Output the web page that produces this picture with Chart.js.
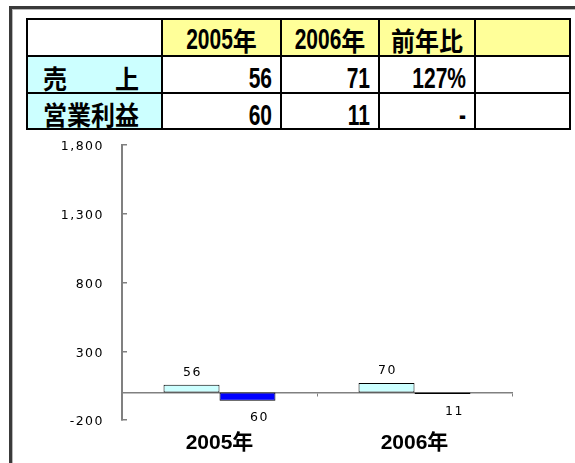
<!DOCTYPE html>
<html>
<head>
<meta charset="utf-8">
<script src="https://cdn.jsdelivr.net/npm/chart.js@4.4.1/dist/chart.umd.min.js"></script>
<style>
  html, body { margin: 0; padding: 0; background: #fff; }
  body { width: 575px; height: 463px; position: relative; overflow: hidden; }
  #chart { position: absolute; left: 0; top: 0; }
  #frame { position: absolute; left: 9px; top: 6px; width: 620px; height: 520px;
           border-top: 3px solid #3a3a3a; border-left: 3px solid #3a3a3a; }
  #frameIn { position: absolute; left: 12px; top: 9px; width: 620px; height: 520px;
             border-top: 1px solid #b8b8b8; border-left: 1px solid #b8b8b8; }
  #tbl { position: absolute; left: 26px; top: 18px; width: 545px; height: 112px;
         box-sizing: border-box; background: #000; padding: 2px;
         display: grid; gap: 2px;
         grid-template-columns: 133px 117px 96px 94px 93px;
         grid-template-rows: 35px 35px 34px; }
  .c { background: #fff; display: flex; align-items: center; overflow: hidden;
       white-space: nowrap; box-sizing: border-box; }
  .hd { background: #ffff99; justify-content: center; padding-top: 3px; }
  .hd.blank0 { background: #fff; }
  .rl { background: #ccffff; justify-content: flex-start; padding-left: 15px; padding-top: 5px; }
  .num { justify-content: flex-end; padding-right: 8px; padding-top: 7px; }
  .d { display: inline-block; vertical-align: middle; line-height: 1;
       font: bold 21px "Liberation Sans", Arial, sans-serif; transform: scaleY(1.42); }
  .k { display: inline-block; vertical-align: middle; line-height: 1;
       font: bold 24px "Noto Sans CJK JP", sans-serif; transform: scaleY(1.08); }
</style>
</head>
<body>
<canvas id="chart" width="575" height="463"></canvas>
<div id="frame"></div>
<div id="frameIn"></div>
<div id="tbl"></div>
<script>
// Summary table
const tableYears = ['2005年', '2006年'];
const ratioHeader = '前年比';
const rowNames = ['売　　上', '営業利益'];
const salesTable = ['56', '71'];
const profitTable = ['60', '11'];
const ratioColumn = ['127%', '-'];

// Chart series
const categories = ['2005年', '2006年'];
const salesBars = [56, 70];
const profitBars = [-60, -11];
const yTicks = [-200, 300, 800, 1300, 1800];

// split text into latin/digit runs and kanji runs so each can get its own font
function styled(text) {
  const runs = text.match(/[0-9%\-]+|[^0-9%\-]+/g) || [];
  return runs.map(r => /[0-9%\-]/.test(r[0])
    ? '<span class="d">' + r + '</span>'
    : '<span class="k">' + r + '</span>').join('');
}

function cell(cls, text) {
  const div = document.createElement('div');
  div.className = 'c ' + cls;
  div.innerHTML = text ? styled(text) : '';
  return div;
}

const tbl = document.getElementById('tbl');
tbl.appendChild(cell('hd blank0', ''));
tableYears.forEach(y => tbl.appendChild(cell('hd', y)));
tbl.appendChild(cell('hd', ratioHeader));
tbl.appendChild(cell('hd', ''));
const rows = [
  [rowNames[0], salesTable, ratioColumn[0]],
  [rowNames[1], profitTable, ratioColumn[1]]
];
rows.forEach(([name, vals, ratio]) => {
  tbl.appendChild(cell('rl', name));
  vals.forEach(v => tbl.appendChild(cell('num', v)));
  tbl.appendChild(cell('num', ratio));
  tbl.appendChild(cell('num', ''));
});

const smallFont = '"DejaVu Sans", sans-serif';

// value labels above positive bars and below negative ones
const valueLabels = {
  id: 'valueLabels',
  beforeDraw(chart) { chart.ctx.letterSpacing = '1.5px'; },
  afterDatasetsDraw(chart) {
    const ctx = chart.ctx;
    ctx.save();
    ctx.font = '12.5px ' + smallFont;
    ctx.fillStyle = '#000';
    ctx.textAlign = 'center';
    ctx.textBaseline = 'alphabetic';
    chart.data.datasets.forEach((ds, i) => {
      chart.getDatasetMeta(i).data.forEach((bar, j) => {
        const v = ds.data[j];
        const txt = String(Math.abs(v));
        if (v >= 0) {
          ctx.fillText(txt, bar.x + 1, bar.y - 8.5);
        } else {
          ctx.fillText(txt, bar.x + 12, bar.y + 20.5);
        }
      });
    });
    ctx.restore();
    ctx.letterSpacing = '0px';
  }
};

const axisGray = '#808080';

new Chart(document.getElementById('chart'), {
  type: 'bar',
  data: {
    labels: categories,
    datasets: [
      {
        label: '売上',
        data: salesBars,
        backgroundColor: '#ccffff',
        borderColor: '#000',
        borderWidth: 1,
        borderSkipped: false
      },
      {
        label: '営業利益',
        data: profitBars,
        backgroundColor: '#0000ff',
        borderColor: '#000',
        borderWidth: 1,
        borderSkipped: false
      }
    ]
  },
  options: {
    responsive: false,
    animation: false,
    devicePixelRatio: 1,
    categoryPercentage: 0.574,
    barPercentage: 1,
    layout: { padding: { top: 145, right: 63, left: 0, bottom: 0 } },
    plugins: {
      legend: { display: false },
      tooltip: { enabled: false }
    },
    scales: {
      x: {
        type: 'category',
        position: 'bottom',
        offset: true,
        grid: { display: false, drawTicks: false },
        border: { display: false },
        ticks: {
          z: 1,
          padding: 11,
          color: '#000',
          maxRotation: 0,
          font: { family: '"Liberation Sans", "Noto Sans CJK JP", sans-serif', size: 21, weight: 'bold' }
        },
        afterFit(scale) { scale.height = 43; }
      },
      x0: {
        axis: 'x',
        type: 'category',
        position: { y: 0 },
        offset: true,
        grid: { offset: true, drawOnChartArea: false, drawTicks: true, tickLength: 3, color: axisGray, lineWidth: 1 },
        border: { display: true, color: axisGray, width: 1.5 },
        ticks: { display: false }
      },
      y: {
        type: 'linear',
        position: 'left',
        min: yTicks[0],
        max: yTicks[yTicks.length - 1],
        afterBuildTicks(scale) { scale.ticks = yTicks.map(v => ({ value: v })); },
        grid: { drawOnChartArea: false, drawTicks: true, tickLength: -5, color: axisGray, lineWidth: 1.5 },
        border: { display: true, color: axisGray, width: 2 },
        ticks: {
          padding: 23,
          labelOffset: 2,
          color: '#000',
          font: { family: smallFont, size: 12.5 },
          callback: v => Number(v).toLocaleString('en-US')
        },
        afterFit(scale) { scale.width = 122; }
      }
    }
  },
  plugins: [valueLabels]
});
</script>
</body>
</html>
